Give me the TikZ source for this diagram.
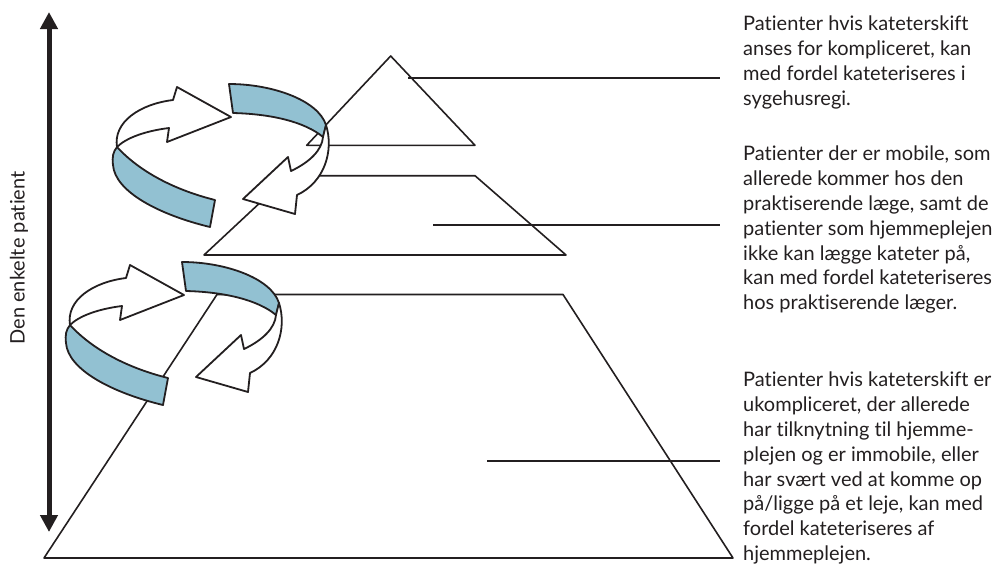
\documentclass[tikz,border=0pt]{standalone}
\usepackage{fontspec}
\setmainfont{Lato}[Ligatures=NoCommon]
\usetikzlibrary{arrows.meta}
\definecolor{ringblue}{RGB}{146,193,210}
\definecolor{ink}{RGB}{35,31,32}
\begin{document}
\begin{tikzpicture}[x=1pt,y=-1pt,line join=round,
  outline/.style={draw=ink,line width=1.8pt},
  band/.style={outline,fill=ringblue},
  flat/.style={outline,fill=white},
  level/.style={draw=ink,line width=1.6pt},
  pointer/.style={draw=ink,line width=1.4pt},
  desc/.style={anchor=north west,align=left,inner sep=0pt,font=\fontsize{20}{24.8}\selectfont,text=ink},
  ring/.pic={
    % lower-left blue band
    \path[band] (117,147) .. controls (140,172) and (175,190) .. (215,200) -- (210,227)
      .. controls (160,215) and (115,192) .. (113,165) .. controls (112,157) and (113,152) .. (117,147) -- cycle;
    % upper-left white arrow
    \path[flat] (117,147) .. controls (113,122) and (140,104) .. (173,100) -- (177,87) -- (231,117)
      -- (167,142) -- (169,128) .. controls (145,131) and (126,138) .. (117,147) -- cycle;
    % upper-right blue band
    \path[band] (229,84) .. controls (272,84) and (318,100) .. (326,125) -- (323,137)
      .. controls (305,122) and (272,114) .. (233,113) -- cycle;
    % right white arrow
    \path[flat] (326,125) .. controls (334,150) and (325,182) .. (297,195) -- (295,214) -- (243,199)
      -- (288,157) -- (291,171) .. controls (310,162) and (322,150) .. (323,137) -- cycle;
  }]
\useasboundingbox (0,0) rectangle (992,584);

% levels
\coordinate (t1a) at (390.7,56);
\coordinate (t1b) at (475,145.3);
\coordinate (t1c) at (306.7,145.3);
\draw[level] (t1a) -- (t1b) -- (t1c) -- cycle;

\coordinate (t2a) at (289,175.7);
\coordinate (t2b) at (475,175.7);
\coordinate (t2c) at (566,255);
\coordinate (t2d) at (204,255);
\draw[level] (t2a) -- (t2b) -- (t2c) -- (t2d) -- cycle;

\coordinate (t3a) at (217,294.5);
\coordinate (t3b) at (563,294.5);
\coordinate (t3c) at (733,558);
\coordinate (t3d) at (44,558);
\draw[level] (t3a) -- (t3b) -- (t3c) -- (t3d) -- cycle;

% pointers
\coordinate (p1a) at (408,78);  \coordinate (p1b) at (720,78);
\coordinate (p2a) at (433,225); \coordinate (p2b) at (720,225);
\coordinate (p3a) at (487,461); \coordinate (p3b) at (720,461);
\draw[pointer] (p1a) -- (p1b);
\draw[pointer] (p2a) -- (p2b);
\draw[pointer] (p3a) -- (p3b);

% rings
\pic at (0,0) {ring};
\pic at (-47,178) {ring};

% vertical double arrow
\coordinate (atop) at (49,12);
\coordinate (abot) at (49,532);
\draw[draw=ink,line width=5pt,{Triangle[length=17pt,width=17pt]}-{Triangle[length=17pt,width=17pt]}] (atop) -- (abot);
\node[rotate=90,inner sep=0pt,font=\fontsize{20}{24}\selectfont,text=ink] (lab) at (19,258) {Den enkelte patient};

% descriptions
\node[desc] (d1) at (743,16) {Patienter hvis kateterskift\\anses for kompliceret, kan\\med fordel kateteriseres i\\sygehusregi.};
\node[desc] (d2) at (743,146) {Patienter der er mobile, som\\allerede kommer hos den\\praktiserende læge, samt de\\patienter som hjemmeplejen\\ikke kan lægge kateter på,\\kan med fordel kateteriseres\\hos praktiserende læger.};
\node[desc] (d3) at (743,372) {Patienter hvis kateterskift er\\ukompliceret, der allerede\\har tilknytning til hjemme-\\plejen og er immobile, eller\\har svært ved at komme op\\på/ligge på et leje, kan med\\fordel kateteriseres af\\hjemmeplejen.};
\end{tikzpicture}
\end{document}
